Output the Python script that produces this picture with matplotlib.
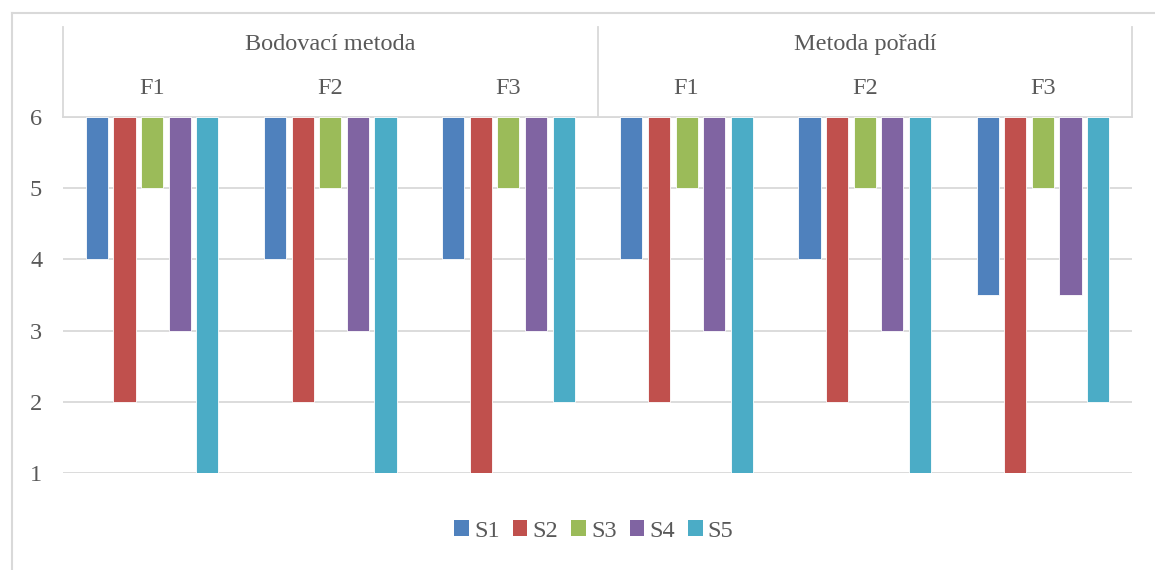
import numpy as np
import matplotlib.pyplot as plt
from matplotlib.patches import Patch
from matplotlib.lines import Line2D

plt.rcParams['font.family'] = ['Liberation Serif', 'DejaVu Serif']

methods = ['Bodovací metoda', 'Metoda pořadí']
factors = ['F1', 'F2', 'F3']
series = ['S1', 'S2', 'S3', 'S4', 'S5']
s1 = [4, 4, 4, 4, 4, 3.5]
s2 = [2, 2, 1, 2, 2, 1]
s3 = [5, 5, 5, 5, 5, 5]
s4 = [3, 3, 3, 3, 3, 3.5]
s5 = [1, 1, 2, 1, 1, 2]
colors = ['#4F81BD', '#C0504D', '#9BBB59', '#8064A2', '#4BACC6']

grey = '#595959'
line_c = '#D9D9D9'
W, H = 1155, 570
fs = 17.5

fig = plt.figure(figsize=(W / 100, H / 100), dpi=100)
# outer chart frame (left and top edges)
fig.add_artist(Line2D([12 / W, 12 / W], [0, 1 - 13 / H], color=line_c, lw=1.5))
fig.add_artist(Line2D([12 / W, 1], [1 - 13 / H, 1 - 13 / H], color=line_c, lw=1.5))

left, right, top, bottom = 63, 1132, 117, 473
ax = fig.add_axes([left / W, 1 - bottom / H, (right - left) / W, (bottom - top) / H])

ncat = len(methods) * len(factors)
x = np.arange(ncat)
pitch = 0.155
width = 0.124
base = 6
for i, (vals, c) in enumerate(zip([s1, s2, s3, s4, s5], colors)):
    pos = x + (i - 2) * pitch
    ax.bar(pos, np.array(vals) - base, bottom=base, width=width, color=c,
           edgecolor='white', linewidth=0.6, zorder=3)

ax.set_xlim(-0.5, ncat - 0.5)
ax.set_ylim(1, 6)
ax.set_yticks(range(1, 7))
ax.grid(axis='y', color=line_c, lw=1.3, zorder=0)
ax.set_xticks([])
for s in ax.spines.values():
    s.set_visible(False)
ax.tick_params(axis='y', length=0, labelsize=fs, labelcolor=grey, pad=15)

# multi-level category header above the plot
top_y = 1 + (top - 27) / (bottom - top)
hdr = dict(color=line_c, lw=1.3, clip_on=False, transform=ax.get_xaxis_transform())
for xv in [-0.5, 2.5, ncat - 0.5]:
    ax.plot([xv, xv], [1, top_y], **hdr)
ax.plot([-0.5, ncat - 0.5], [1, 1], **hdr)

for m, name in enumerate(methods):
    ax.text(m * 3 + 1, 1 + (top - 44) / (bottom - top), name,
            transform=ax.get_xaxis_transform(), ha='center', va='center',
            fontsize=fs, color=grey)
    for f, fn in enumerate(factors):
        ax.text(m * 3 + f, 1 + (top - 88) / (bottom - top), fn,
                transform=ax.get_xaxis_transform(), ha='center', va='center',
                fontsize=fs, color=grey)

handles = [Patch(facecolor=c, edgecolor='none') for c in colors]
fig.legend(handles, series, loc='center', bbox_to_anchor=(594 / W, 1 - 531 / H),
           ncol=5, frameon=False, fontsize=fs, labelcolor=grey,
           handlelength=0.6, handleheight=0.6, handletextpad=0.2,
           columnspacing=0.55)

fig.savefig('out.png', dpi=100)
